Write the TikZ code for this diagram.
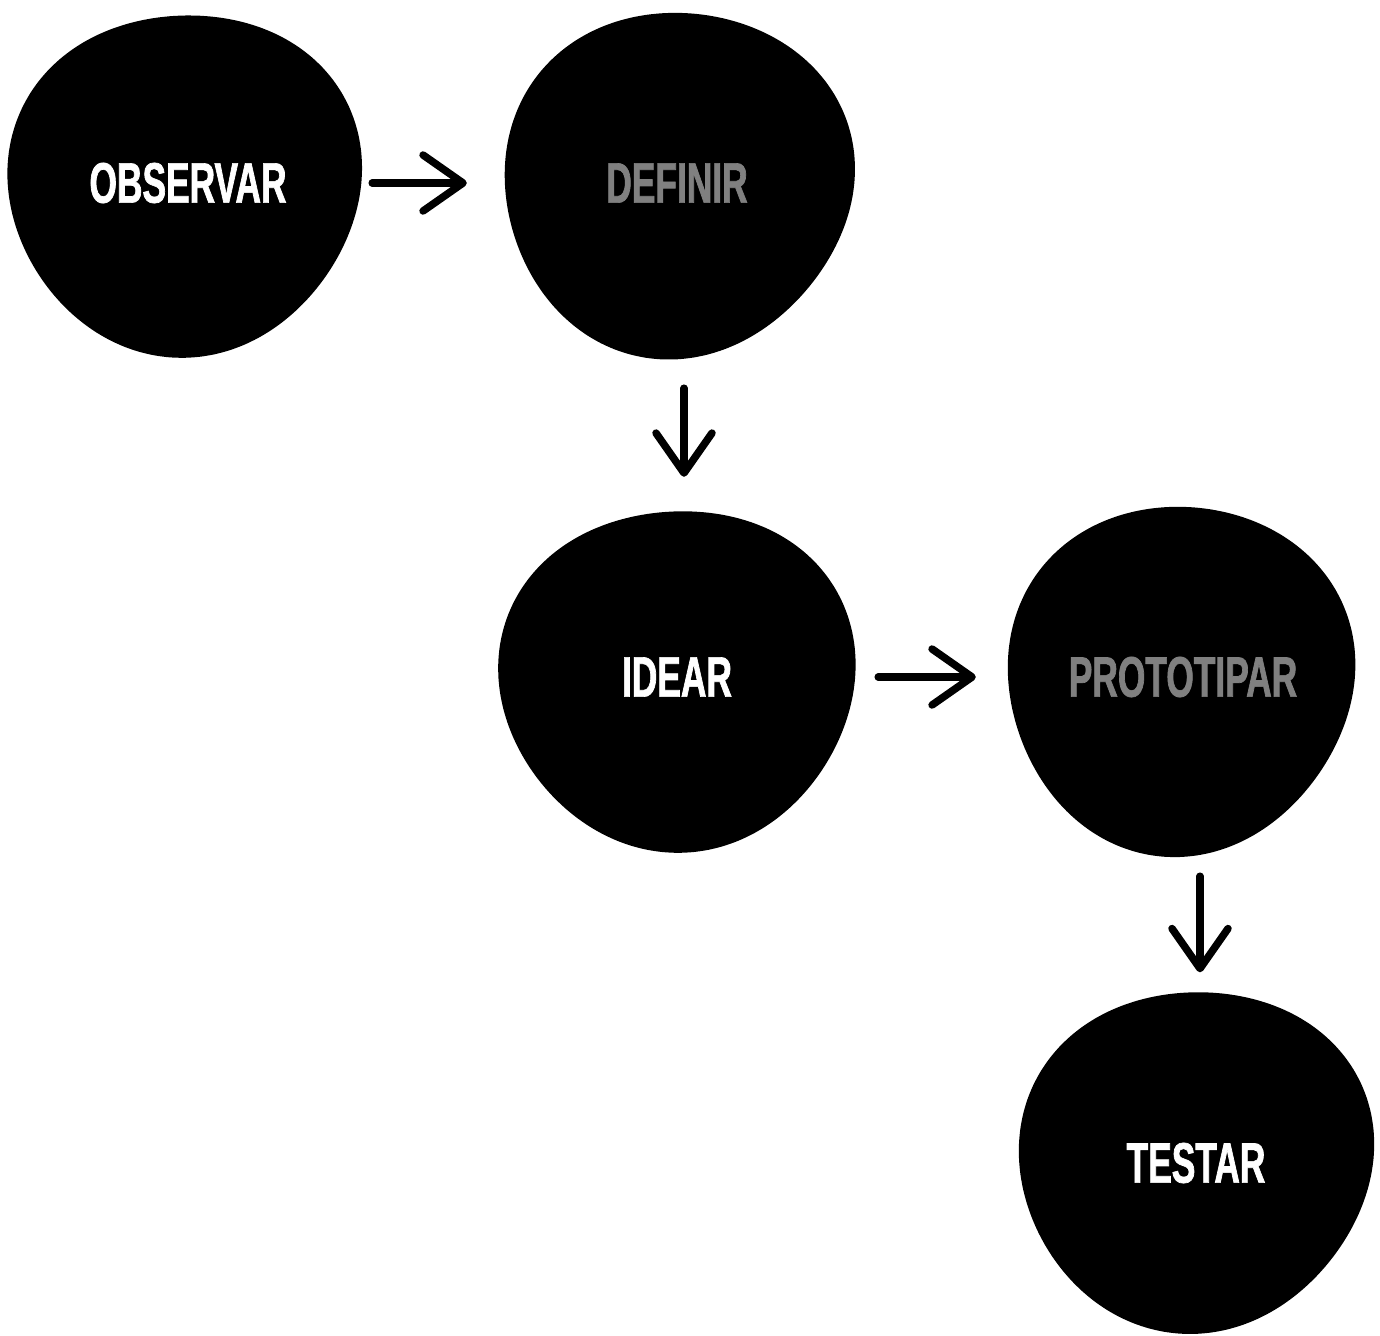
\documentclass[tikz,border=0pt]{standalone}
\usepackage{fontspec}
\newfontfamily\condfont[FakeStretch=0.62,FakeBold=1.2]{Liberation Sans}
\usetikzlibrary{arrows.meta}
\definecolor{txtgray}{RGB}{128,128,128}
% #1,#2 centre; #3,#4 radii; #5,#6 phases of the wobble
\newcommand\drawblob[6]{%
  \fill[blob] plot[smooth cycle,samples=72,domain=0:355]
    ({#1+#3*(1+0.024*cos(3*\x+#5)+0.014*cos(2*\x+#6))*cos(\x)},
     {#2+#4*(1+0.024*cos(3*\x+#5)+0.014*cos(2*\x+#6))*sin(\x)});}
\begin{document}
\begin{tikzpicture}[x=1pt,y=-1pt,
  blob/.style={fill=black},
  stage/.style={circle,minimum size=350pt,inner sep=0pt,font=\condfont\bfseries\fontsize{57}{57}\selectfont},
  lighttxt/.style={stage,text=white},
  darktxt/.style={stage,text=txtgray},
  conn/.style={line width=7.5pt,line cap=round,line join=round,
    -{Straight Barb[length=40pt,width=56pt,round]}}
]
\useasboundingbox (0,0) rectangle (1380,1335);
% blobs
\drawblob{184.5}{182.5}{175}{173}{90}{40}
\drawblob{677.5}{182.5}{176}{172}{60}{120}
\drawblob{677.5}{678}{176}{173}{100}{20}
\drawblob{1180}{678}{175.5}{173}{70}{150}
\drawblob{1195.5}{1159}{176}{172}{80}{60}
% nodes
\node[lighttxt] (obs) at (188,183) {OBSERVAR};
\node[darktxt] (def) at (677,183) {DEFINIR};
\node[lighttxt] (ide) at (677,677) {IDEAR};
\node[darktxt] (pro) at (1183,677) {PROTOTIPAR};
\node[lighttxt,minimum size=345pt] (tes) at (1196,1163) {TESTAR};
% connectors
\draw[conn] ([xshift=9pt]obs.east) -- ([xshift=-35pt]def.west);
\draw[conn] ([xshift=7pt,yshift=-30pt]def.south) -- ([xshift=7pt,yshift=25pt]ide.north);
\draw[conn] ([xshift=26pt]ide.east) -- ([xshift=-32pt]pro.west);
\draw[conn] ([xshift=17pt,yshift=-24pt]pro.south) -- ([xshift=4pt,yshift=18pt]tes.north);
\end{tikzpicture}
\end{document}
